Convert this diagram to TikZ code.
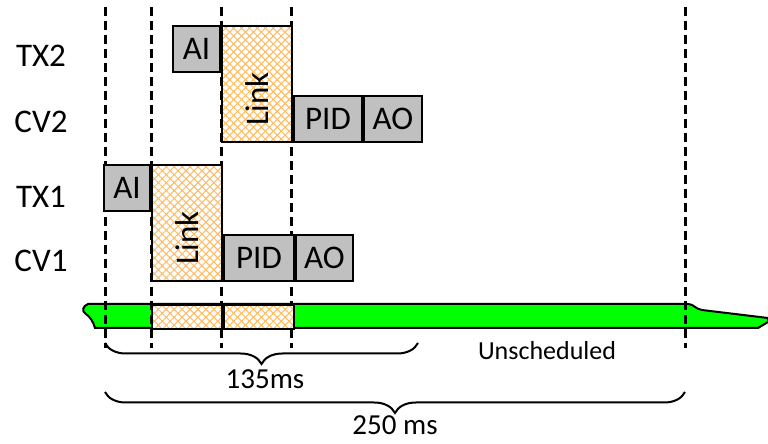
\documentclass[tikz,border=0pt]{standalone}
\usepackage{fontspec}
\setmainfont{Carlito}
\usetikzlibrary{positioning,patterns.meta,decorations.pathreplacing}
\definecolor{busgreen}{RGB}{0,255,0}
\definecolor{slotgray}{RGB}{192,192,192}
\definecolor{hatchorange}{RGB}{255,185,95}

\begin{document}
\begin{tikzpicture}[
  x=0.5pt, y=-0.5pt,
  slot/.style={draw, line width=1pt, fill=slotgray, inner sep=0pt, minimum height=23pt, font=\fontsize{16.5}{19}\selectfont},
  linkbox/.style={slot, fill=none, minimum width=35pt, minimum height=58pt,
    preaction={fill=white},
    preaction={pattern={Lines[angle=45, distance=2.8pt, line width=0.5pt]}, pattern color=hatchorange},
    preaction={pattern={Lines[angle=-45, distance=2.8pt, line width=0.5pt]}, pattern color=hatchorange}},
  rowlab/.style={font=\fontsize{16.5}{19}\selectfont},
  guide/.style={line width=1.5pt, dash pattern=on 4.5pt off 2.5pt},
  span/.style={decorate, decoration={brace, mirror, amplitude=10.5pt}, line width=1pt},
]
  \useasboundingbox (0,0) rectangle (768,444);

  % bus bar
  \draw[line width=1pt, fill=busgreen] (88,304) -- (688,304)
    .. controls (694,304) and (695,309) .. (702,310) -- (768,318) -- (768,322)
    -- (758,328) -- (95,328) .. controls (93,321) and (90,317) .. (86,314)
    .. controls (81,311) and (83,306) .. (88,304) -- cycle;

  % time marks
  \foreach \x in {105,151,221,291,685}
    \draw[guide] (\x,7) -- (\x,348);

  % row labels
  \node[rowlab] (tx2) at (41,56) {TX2};
  \node[rowlab] (cv2) at (41,122) {CV2};
  \node[rowlab] (tx1) at (41,197) {TX1};
  \node[rowlab] (cv1) at (41,261) {CV1};

  % loop 2
  \node[linkbox, anchor=north west] (link2) at (221,25) {};
  \node[slot, anchor=north east, minimum width=23.5pt] (ai2) at (link2.north west) {AI};
  \node[slot, anchor=south west, minimum width=34pt] (pid2) at (link2.south east) {PID};
  \node[slot, right=0pt of pid2, minimum width=29pt] (ao2) {AO};
  \node[rotate=90, font=\fontsize{16.5}{19}\selectfont] (link2txt) at ([yshift=-7.5pt]link2.center) {Link};

  % loop 1
  \node[linkbox, anchor=north west] (link1) at (151,164) {};
  \node[slot, anchor=north east, minimum width=23pt] (ai1) at (link1.north west) {AI};
  \node[slot, anchor=south west, minimum width=35pt] (pid1) at (link1.south east) {PID};
  \node[slot, right=0pt of pid1, minimum width=28.5pt] (ao1) {AO};
  \node[rotate=90, font=\fontsize{16.5}{19}\selectfont] (link1txt) at ([yshift=-7.5pt]link1.center) {Link};

  % link slots on the bus
  \node[linkbox, anchor=north west, minimum height=12pt] (bus1) at (151,304) {};
  \node[linkbox, right=0pt of bus1, minimum height=12pt] (bus2) {};

  % spans
  \coordinate (s1a) at (105,343);
  \coordinate (s1b) at (418,343);
  \coordinate (s2a) at (105,392);
  \coordinate (s2b) at (685,392);
  \draw[span] (s1a) -- (s1b);
  \draw[span] (s2a) -- (s2b);
  \node[font=\fontsize{14.5}{17}\selectfont] (t135) at (265,379) {135ms};
  \node[font=\fontsize{14.5}{17}\selectfont] (t250) at (395,425) {250 ms};
  \node[font=\fontsize{13}{16}\selectfont] (unsch) at (547,351) {Unscheduled};
\end{tikzpicture}
\end{document}
